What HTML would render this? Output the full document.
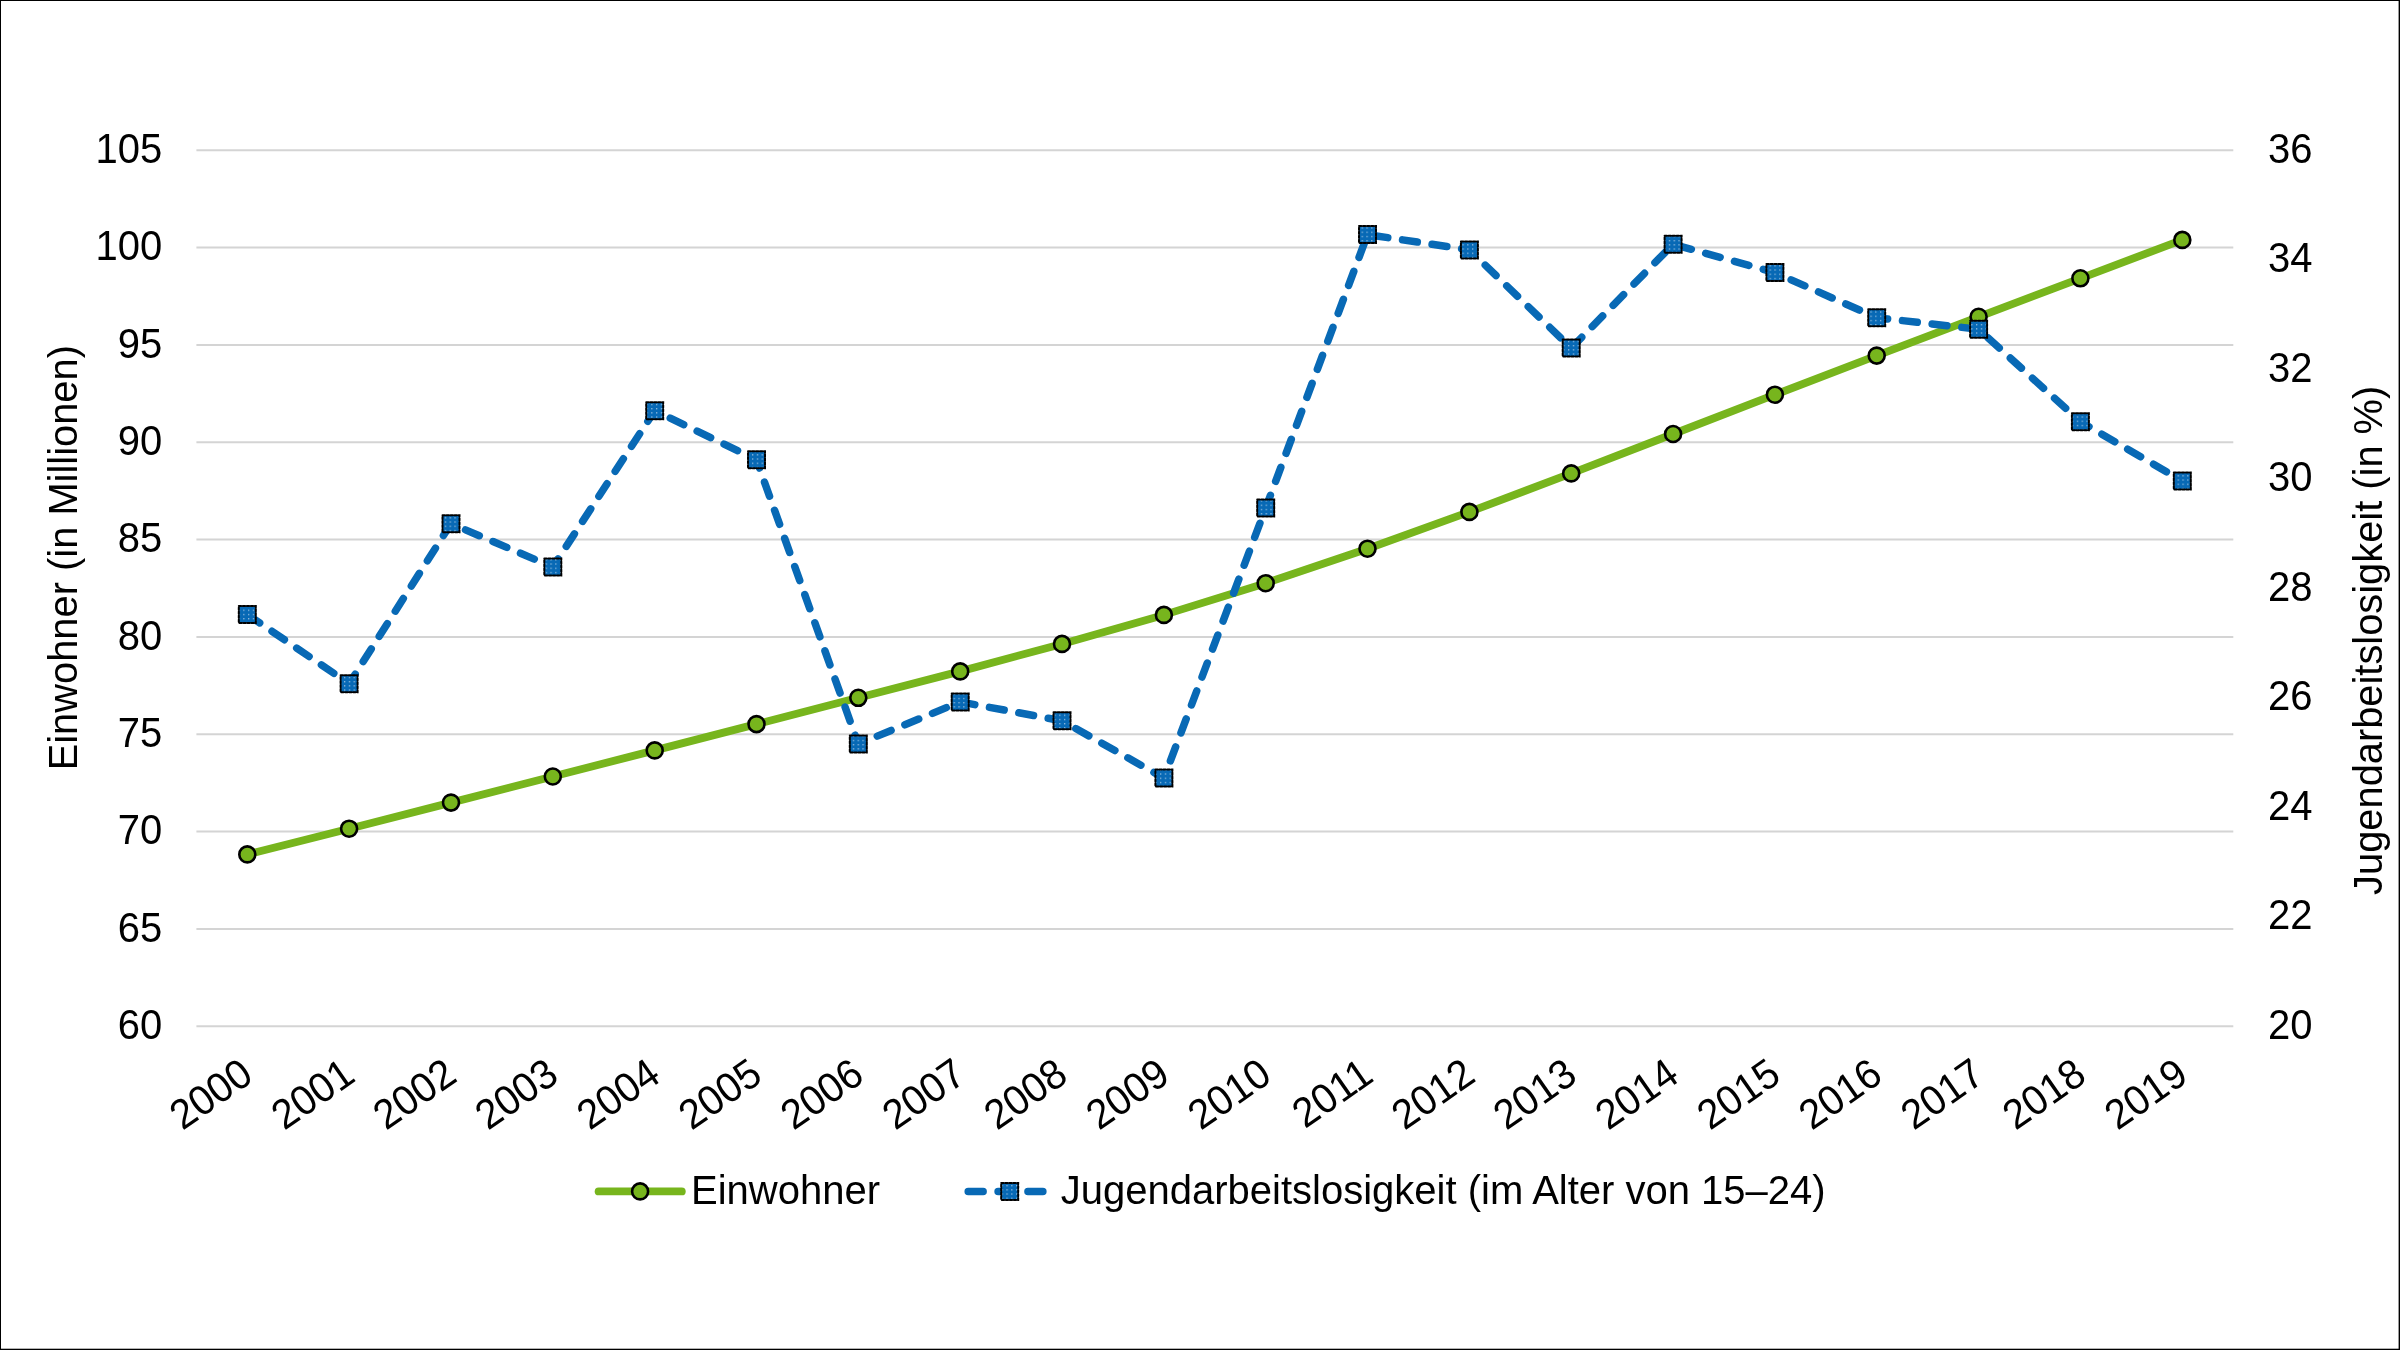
<!DOCTYPE html>
<html lang="de"><head><meta charset="utf-8"><title>Einwohner und Jugendarbeitslosigkeit</title>
<style>html,body{margin:0;padding:0;background:#fff}body{width:2400px;height:1350px;overflow:hidden}svg{display:block;will-change:transform}text{font-family:"Liberation Sans", sans-serif;font-size:40px;fill:#000}</style>
</head><body>
<svg width="2400" height="1350" viewBox="0 0 2400 1350">
<defs><pattern id="dots" patternUnits="userSpaceOnUse" x="3.2" y="0.6" width="4.8" height="4.2"><rect width="4.8" height="4.2" fill="#0869B5"/><rect x="0" y="0" width="1.3" height="1.3" fill="#fff" fill-opacity="0.55"/></pattern></defs>
<rect x="0" y="0" width="2400" height="1350" fill="#fff"/>
<g stroke="#D4D4D4" stroke-width="2" fill="none">
<line x1="196.4" y1="150.20" x2="2233.3" y2="150.20"/>
<line x1="196.4" y1="247.54" x2="2233.3" y2="247.54"/>
<line x1="196.4" y1="344.88" x2="2233.3" y2="344.88"/>
<line x1="196.4" y1="442.22" x2="2233.3" y2="442.22"/>
<line x1="196.4" y1="539.56" x2="2233.3" y2="539.56"/>
<line x1="196.4" y1="636.90" x2="2233.3" y2="636.90"/>
<line x1="196.4" y1="734.24" x2="2233.3" y2="734.24"/>
<line x1="196.4" y1="831.58" x2="2233.3" y2="831.58"/>
<line x1="196.4" y1="928.92" x2="2233.3" y2="928.92"/>
<line x1="196.4" y1="1026.26" x2="2233.3" y2="1026.26"/>
</g>
<g text-anchor="end">
<text transform="translate(162.3 162.90) scale(1 1.04)">105</text>
<text transform="translate(162.3 260.24) scale(1 1.04)">100</text>
<text transform="translate(162.3 357.58) scale(1 1.04)">95</text>
<text transform="translate(162.3 454.92) scale(1 1.04)">90</text>
<text transform="translate(162.3 552.26) scale(1 1.04)">85</text>
<text transform="translate(162.3 649.60) scale(1 1.04)">80</text>
<text transform="translate(162.3 746.94) scale(1 1.04)">75</text>
<text transform="translate(162.3 844.28) scale(1 1.04)">70</text>
<text transform="translate(162.3 941.62) scale(1 1.04)">65</text>
<text transform="translate(162.3 1038.96) scale(1 1.04)">60</text>
</g>
<g text-anchor="start">
<text transform="translate(2268.0 162.80) scale(1 1.04)">36</text>
<text transform="translate(2268.0 272.31) scale(1 1.04)">34</text>
<text transform="translate(2268.0 381.82) scale(1 1.04)">32</text>
<text transform="translate(2268.0 491.33) scale(1 1.04)">30</text>
<text transform="translate(2268.0 600.84) scale(1 1.04)">28</text>
<text transform="translate(2268.0 710.35) scale(1 1.04)">26</text>
<text transform="translate(2268.0 819.86) scale(1 1.04)">24</text>
<text transform="translate(2268.0 929.37) scale(1 1.04)">22</text>
<text transform="translate(2268.0 1038.88) scale(1 1.04)">20</text>
</g>
<text transform="translate(77 557.7) rotate(-90)" text-anchor="middle" style="font-size:39.86px">Einwohner (in Millionen)</text>
<text transform="translate(2381.9 640.3) rotate(-90)" text-anchor="middle" style="font-size:39.84px">Jugendarbeitslosigkeit (in %)</text>
<g text-anchor="end">
<text transform="translate(255.3 1080) rotate(-35) scale(1 1.04)">2000</text>
<text transform="translate(357.1 1080) rotate(-35) scale(1 1.04)">2001</text>
<text transform="translate(459.0 1080) rotate(-35) scale(1 1.04)">2002</text>
<text transform="translate(560.8 1080) rotate(-35) scale(1 1.04)">2003</text>
<text transform="translate(662.7 1080) rotate(-35) scale(1 1.04)">2004</text>
<text transform="translate(764.5 1080) rotate(-35) scale(1 1.04)">2005</text>
<text transform="translate(866.3 1080) rotate(-35) scale(1 1.04)">2006</text>
<text transform="translate(968.2 1080) rotate(-35) scale(1 1.04)">2007</text>
<text transform="translate(1070.0 1080) rotate(-35) scale(1 1.04)">2008</text>
<text transform="translate(1171.9 1080) rotate(-35) scale(1 1.04)">2009</text>
<text transform="translate(1273.7 1080) rotate(-35) scale(1 1.04)">2010</text>
<text transform="translate(1375.5 1080) rotate(-35) scale(1 1.04)">2011</text>
<text transform="translate(1477.4 1080) rotate(-35) scale(1 1.04)">2012</text>
<text transform="translate(1579.2 1080) rotate(-35) scale(1 1.04)">2013</text>
<text transform="translate(1681.1 1080) rotate(-35) scale(1 1.04)">2014</text>
<text transform="translate(1782.9 1080) rotate(-35) scale(1 1.04)">2015</text>
<text transform="translate(1884.7 1080) rotate(-35) scale(1 1.04)">2016</text>
<text transform="translate(1986.6 1080) rotate(-35) scale(1 1.04)">2017</text>
<text transform="translate(2088.4 1080) rotate(-35) scale(1 1.04)">2018</text>
<text transform="translate(2190.3 1080) rotate(-35) scale(1 1.04)">2019</text>
</g>
<polyline points="247.3,854.4 349.1,828.7 451.0,802.6 552.8,776.5 654.7,750.4 756.5,724.1 858.3,697.8 960.2,671.4 1062.0,643.9 1163.9,614.9 1265.7,583.2 1367.5,548.7 1469.4,511.9 1571.2,473.4 1673.1,434.0 1774.9,394.7 1876.7,355.6 1978.6,316.8 2080.4,278.3 2182.3,239.9" fill="none" stroke="#77B51D" stroke-width="7.8" stroke-linecap="round" stroke-linejoin="round"/>
<g fill="#77B51D" stroke="#000" stroke-width="2.6">
<circle cx="247.3" cy="854.4" r="8"/>
<circle cx="349.1" cy="828.7" r="8"/>
<circle cx="451.0" cy="802.6" r="8"/>
<circle cx="552.8" cy="776.5" r="8"/>
<circle cx="654.7" cy="750.4" r="8"/>
<circle cx="756.5" cy="724.1" r="8"/>
<circle cx="858.3" cy="697.8" r="8"/>
<circle cx="960.2" cy="671.4" r="8"/>
<circle cx="1062.0" cy="643.9" r="8"/>
<circle cx="1163.9" cy="614.9" r="8"/>
<circle cx="1265.7" cy="583.2" r="8"/>
<circle cx="1367.5" cy="548.7" r="8"/>
<circle cx="1469.4" cy="511.9" r="8"/>
<circle cx="1571.2" cy="473.4" r="8"/>
<circle cx="1673.1" cy="434.0" r="8"/>
<circle cx="1774.9" cy="394.7" r="8"/>
<circle cx="1876.7" cy="355.6" r="8"/>
<circle cx="1978.6" cy="316.8" r="8"/>
<circle cx="2080.4" cy="278.3" r="8"/>
<circle cx="2182.3" cy="239.9" r="8"/>
</g>
<polyline points="247.3,614.5 349.1,683.7 451.0,523.7 552.8,567.0 654.7,410.7 756.5,459.8 858.3,744.0 960.2,701.9 1062.0,720.8 1163.9,778.1 1265.7,508.0 1367.5,234.6 1469.4,249.9 1571.2,348.0 1673.1,244.2 1774.9,272.6 1876.7,317.7 1978.6,329.3 2080.4,421.7 2182.3,481.0" fill="none" stroke="#0869B5" stroke-width="7.5" stroke-linecap="round" stroke-linejoin="round" stroke-dasharray="14.93 14.94"/>
<g fill="url(#dots)" stroke="#000" stroke-width="2" stroke-linecap="round" stroke-dasharray="2.4 1.6">
<rect x="238.8" y="606.0" width="17" height="17"/>
<rect x="340.6" y="675.2" width="17" height="17"/>
<rect x="442.5" y="515.2" width="17" height="17"/>
<rect x="544.3" y="558.5" width="17" height="17"/>
<rect x="646.2" y="402.2" width="17" height="17"/>
<rect x="748.0" y="451.3" width="17" height="17"/>
<rect x="849.8" y="735.5" width="17" height="17"/>
<rect x="951.7" y="693.4" width="17" height="17"/>
<rect x="1053.5" y="712.3" width="17" height="17"/>
<rect x="1155.4" y="769.6" width="17" height="17"/>
<rect x="1257.2" y="499.5" width="17" height="17"/>
<rect x="1359.0" y="226.1" width="17" height="17"/>
<rect x="1460.9" y="241.4" width="17" height="17"/>
<rect x="1562.7" y="339.5" width="17" height="17"/>
<rect x="1664.6" y="235.7" width="17" height="17"/>
<rect x="1766.4" y="264.1" width="17" height="17"/>
<rect x="1868.2" y="309.2" width="17" height="17"/>
<rect x="1970.1" y="320.8" width="17" height="17"/>
<rect x="2071.9" y="413.2" width="17" height="17"/>
<rect x="2173.8" y="472.5" width="17" height="17"/>
</g>
<line x1="598.6" y1="1191.4" x2="681.8" y2="1191.4" stroke="#77B51D" stroke-width="7.8" stroke-linecap="round"/>
<circle cx="640.1" cy="1191.4" r="8" fill="#77B51D" stroke="#000" stroke-width="2.6"/>
<text x="691" y="1204">Einwohner</text>
<line x1="968.2" y1="1191.4" x2="1051.4" y2="1191.4" stroke="#0869B5" stroke-width="7.5" stroke-linecap="round" stroke-dasharray="14.93 14.94"/>
<rect x="1001.2" y="1182.9" width="17" height="17" fill="url(#dots)" stroke="#000" stroke-width="2" stroke-linecap="round" stroke-dasharray="2.4 1.6"/>
<text x="1060.8" y="1204">Jugendarbeitslosigkeit (im Alter von 15–24)</text>
<rect x="0.5" y="0.5" width="2399.0" height="1349.0" fill="none" stroke="#000" stroke-width="1"/>
<rect x="2398.6" y="0" width="0.4" height="1350" fill="#000"/><rect x="0" y="1348.7" width="2400" height="0.3" fill="#000"/>
</svg>
</body></html>
